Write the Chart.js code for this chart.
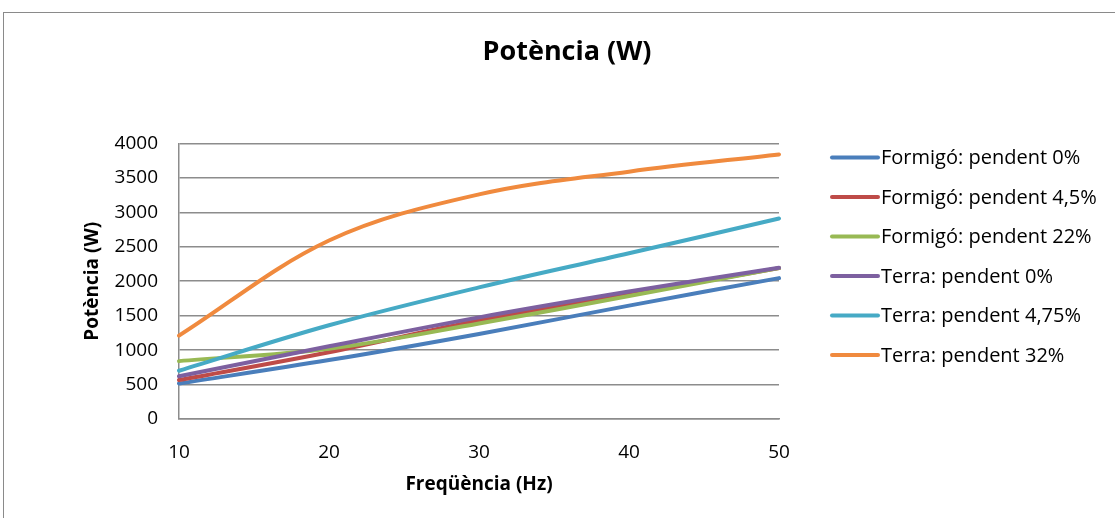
<!DOCTYPE html>
<html>
<head>
<meta charset="utf-8">
<script src="https://cdn.jsdelivr.net/npm/chart.js@4.4.0/dist/chart.umd.min.js"></script>
<style>
  html, body { margin: 0; padding: 0; background: #fff; }
  #wrap { position: relative; width: 1115px; height: 518px; overflow: hidden; }
  #frame { position: absolute; left: 3px; top: 12px; width: 1200px; height: 600px; border: 1px solid #8a8a8a; }
  #potencia { position: absolute; left: 0; top: 0; }
</style>
</head>
<body>
<div id="wrap">
  <div id="frame"></div>
  <canvas id="potencia" width="1115" height="518"></canvas>
</div>
<script>
const ctx = document.getElementById("potencia").getContext("2d");

// frequencies (Hz)
const freqLabels = ["10", "20", "30", "40", "50"];

// power (W)
const formigo0 = [515, 855, 1235, 1645, 2045];
const formigo45 = [565, 970, 1430, 1810, 2190];
const formigo22 = [840, 1020, 1385, 1785, 2190];
const terra0 = [620, 1055, 1475, 1850, 2195];
const terra475 = [700, 1360, 1910, 2405, 2910];
const terra32 = [1210, 2590, 3260, 3590, 3840];

const seriesNames = [
  "Formigó: pendent 0%",
  "Formigó: pendent 4,5%",
  "Formigó: pendent 22%",
  "Terra: pendent 0%",
  "Terra: pendent 4,75%",
  "Terra: pendent 32%"
];
const seriesValues = [formigo0, formigo45, formigo22, terra0, terra475, terra32];
const seriesColors = ["#4A7EBB", "#BE4B48", "#98B954", "#7D60A0", "#46AAC5", "#F08A3E"];

const FONT = "'Open Sans', Lato, sans-serif";
const GRID = "#8c8c8c";

// legend on the right, drawn in the space kept free by the dummy axis
const sideLegend = {
  id: "sideLegend",
  afterDraw(chart) {
    const c = chart.ctx;
    const area = chart.chartArea;
    const x0 = area.right + 53;
    c.save();
    c.font = "20px " + FONT;
    c.textBaseline = "middle";
    chart.data.datasets.forEach((ds, i) => {
      const y = area.top + 14 + i * 39.5;
      c.strokeStyle = ds.borderColor;
      c.lineWidth = 4;
      c.lineCap = "round";
      c.beginPath();
      c.moveTo(x0, y);
      c.lineTo(x0 + 46, y);
      c.stroke();
      c.fillStyle = "#000";
      c.fillText(ds.label, x0 + 49, y + 1);
    });
    c.restore();
  }
};

const datasets = seriesNames.map((name, i) => ({
  label: name,
  data: seriesValues[i],
  borderColor: seriesColors[i],
  backgroundColor: seriesColors[i],
  borderWidth: 4,
  borderCapStyle: "round",
  pointRadius: 0,
  tension: 0.35,
  fill: false,
  order: seriesNames.length - i // later series on top, like Excel
}));

new Chart(ctx, {
  type: "line",
  data: { labels: freqLabels, datasets: datasets },
  plugins: [sideLegend],
  options: {
    responsive: false,
    animation: false,
    layout: { padding: { left: 19, top: 12, right: 0, bottom: 0 } },
    plugins: {
      legend: { display: false },
      tooltip: { enabled: false },
      title: {
        display: true,
        text: "Potència (W)",
        color: "#000",
        font: { family: FONT, size: 27, weight: "bold", lineHeight: 1.2 },
        padding: { top: 24, bottom: 75 }
      }
    },
    scales: {
      x: {
        type: "category",
        grid: { display: false, drawTicks: false },
        border: { display: true, color: GRID, width: 1.5 },
        ticks: { color: "#000", font: { family: FONT, size: 19 }, padding: 22, maxRotation: 0 },
        title: {
          display: true,
          text: "Freqüència (Hz)",
          color: "#000",
          font: { family: FONT, size: 19, weight: "bold" },
          padding: { top: 0, bottom: 22 }
        },
        afterFit: s => { s.height = 99; }
      },
      y: {
        min: 0,
        max: 4000,
        grid: { color: GRID, lineWidth: 1.5, drawTicks: false },
        border: { display: true, color: GRID, width: 1.5 },
        ticks: {
          stepSize: 500,
          color: "#000",
          font: { family: FONT, size: 19 },
          padding: 21,
          format: { useGrouping: false }
        },
        title: {
          display: true,
          text: "Potència (W)",
          color: "#000",
          font: { family: FONT, size: 19, weight: "bold" },
          padding: { top: 62, bottom: 0 }
        },
        afterFit: s => { s.width = 160; }
      },
      legendSpace: {
        type: "linear",
        position: "right",
        grid: { display: false, drawTicks: false },
        border: { display: false },
        ticks: { display: false },
        afterFit: s => { s.width = 336; }
      }
    }
  }
});
</script>
</body>
</html>
